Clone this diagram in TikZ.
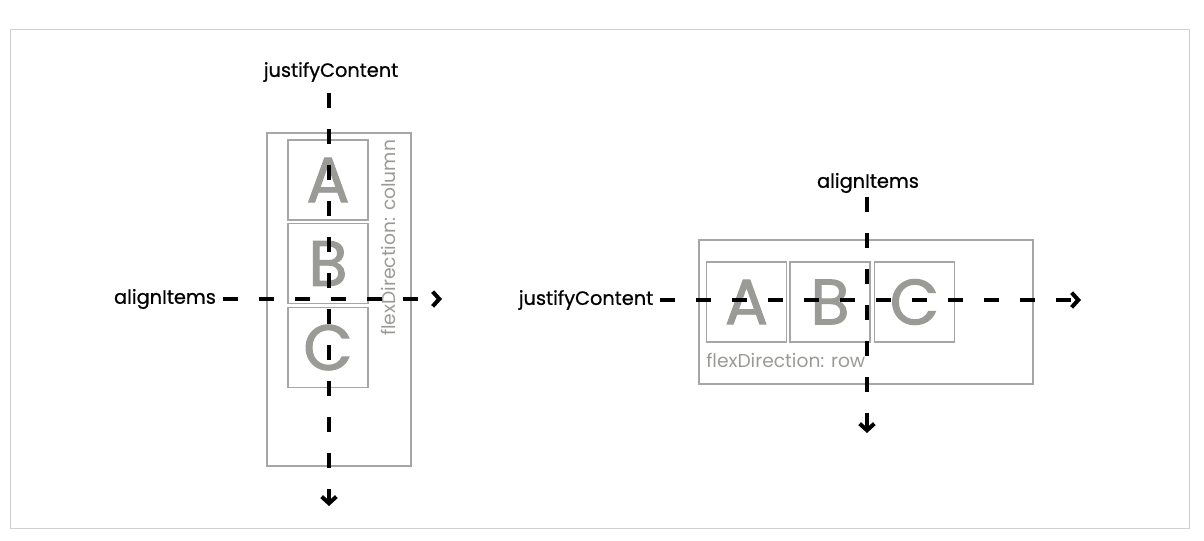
\documentclass[tikz,border=0pt]{standalone}
\usepackage{fontspec}
\setmainfont{Poppins}
\newfontfamily\lblfont[FakeBold=0.8]{Poppins}
\newfontfamily\letterfont[FakeBold=1.5]{Poppins}
\usetikzlibrary{arrows.meta}
\definecolor{boxgray}{HTML}{A6A6A6}
\definecolor{txtgray}{HTML}{9A9A96}
\definecolor{framegray}{HTML}{D0D0D0}
\begin{document}
\begin{tikzpicture}[x=0.75pt,y=-0.75pt,
  container/.style={draw=boxgray, line width=1.5pt, inner sep=0pt},
  item/.style={draw=boxgray, line width=1.2pt, inner sep=0pt,
    minimum width=60pt, minimum height=60pt, text=txtgray,
    font=\letterfont\fontsize{48}{48}\selectfont},
  axis/.style={line width=2.4pt, dash pattern=on 11pt off 16pt,
    -{Straight Barb[length=5pt,width=11pt,line width=3pt]}},
  lbl/.style={font=\lblfont\fontsize{14.5}{16}\selectfont, text=black, inner sep=0pt},
  dirlbl/.style={font=\fontsize{14}{16}\selectfont, text=txtgray, inner sep=0pt}
]
\useasboundingbox (0,0) rectangle (1204,540);
\draw[framegray, line width=0.75pt] (10,29) rectangle (1189,528);

% ---------- left: column ----------
\node[container, minimum width=108pt, minimum height=249.75pt] (lc) at (339,299.5) {};
\node[item] (la) at (328,180) {A};
\node[item] (lb) at (328,263.5) {B};
\node[item] (lcc) at (328,347.5) {C};
\node[dirlbl, rotate=90, anchor=west] (ldir) at (388,336) {flexDirection: column};
\node[lbl] (ljc) at (331,72) {justifyContent};
\node[lbl] (lai) at (165,299) {alignItems};
\coordinate (lvs) at (329,93);
\coordinate (lve) at (329,506);
\coordinate (lhs) at (223,299);
\coordinate (lhe) at (442,299);
\draw[axis] (lvs) -- (lve);
\draw[axis] (lhs) -- (lhe);

% ---------- right: row ----------
\node[container, minimum width=250.5pt, minimum height=108pt] (rc) at (866,312) {};
\node[item] (ra) at (746.5,302) {A};
\node[item] (rb) at (830,302) {B};
\node[item] (rcc) at (914.5,302) {C};
\node[dirlbl, anchor=base west] (rdir) at (706,367) {flexDirection: row};
\node[lbl] (rai) at (868,183) {alignItems};
\node[lbl] (rjc) at (586,300) {justifyContent};
\coordinate (rvs) at (867,197);
\coordinate (rve) at (867,433);
\coordinate (rhs) at (660,300);
\coordinate (rhe) at (1081,300);
\draw[axis] (rvs) -- (rve);
\draw[axis] (rhs) -- (rhe);
\end{tikzpicture}
\end{document}
